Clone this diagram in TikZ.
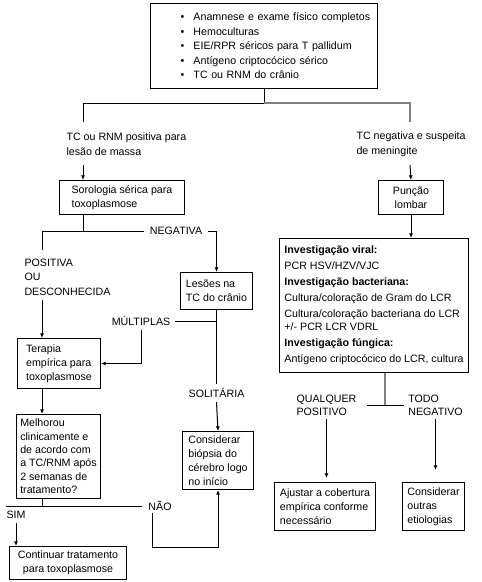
\documentclass[tikz,border=0pt]{standalone}
\usepackage{fontspec}
\setmainfont{Liberation Sans}
\usepackage{tikz}
\usetikzlibrary{
  arrows.meta
}
\tikzset{>={Latex[length=3.5pt,width=3pt]}}
\tikzset{
  box/.style={draw,anchor=north west,align=left,inner xsep=0pt,inner ysep=0pt},
  lbl/.style={align=left,inner sep=0pt},
  grayline/.style={draw=gray,line width=1.1pt}
}
\newcommand\bul{\hspace*{22.5pt}\makebox[9.75pt][l]{\textbullet}}

\begin{document}
\begin{tikzpicture}[x=0.75pt,y=-0.75pt,line width=0.75pt,font=\fontsize{8}{10.5}\selectfont]
\useasboundingbox (0,0) rectangle (482,582);
\node[box,text width=170.25pt,minimum height=63.75pt,font=\fontsize{8}{10.9}\selectfont] (exames) at (150,3)
  {\bul Anamnese e exame físico completos\\ \bul Hemoculturas\\ \bul EIE/RPR séricos para T pallidum\\
   \bul Antígeno criptocócico sérico\\ \bul TC ou RNM do crânio};
\node[lbl,anchor=west,font=\fontsize{8}{11.25}\selectfont] (lesaoL) at (66,144.5) {TC ou RNM positiva para\\lesão de massa};
\node[lbl,anchor=west,font=\fontsize{8}{11.25}\selectfont] (menL) at (356,144.5) {TC negativa e suspeita\\de meningite};
\node[box,minimum width=93.75pt,minimum height=25.5pt] (soro) at (59,180) {Sorologia sérica para\\toxoplasmose};
\node[box,align=center,minimum width=48.75pt,minimum height=25.5pt] (punc) at (378,180) {Punção\\lombar};
\node[lbl,inner xsep=3.75pt] (negL) at (176,231) {NEGATIVA};
\node[lbl,anchor=west,font=\fontsize{8}{10.9}\selectfont] (posL) at (24,277) {POSITIVA\\OU\\DESCONHECIDA};
\node[box,minimum width=141.75pt,minimum height=100.5pt,font=\fontsize{8}{12}\selectfont] (inv) at (279,238)
  {\textbf{Investigação viral:}\\ PCR HSV/HZV/VJC\\ \textbf{Investigação bacteriana:}\\
   Cultura/coloração de Gram do LCR\\ Cultura/coloração bacteriana do LCR\\[-2.5pt] +/- PCR LCR VDRL\\
   \textbf{Investigação fúngica:}\\ Antígeno criptocócico do LCR, cultura};
\node[box,minimum width=54pt,minimum height=27.75pt] (lesoes) at (180,272) {Lesões na\\TC do crânio};
\node[lbl,inner xsep=3pt,inner ysep=3pt] (multL) at (141,321) {MÚLTIPLAS};
\node[box,minimum width=62.25pt,minimum height=37.5pt] (terapia) at (17,338) {Terapia\\empírica para\\toxoplasmose};
\node[lbl,inner ysep=3pt] (solL) at (216.5,393) {SOLITÁRIA};
\node[lbl,inner xsep=7.5pt,inner ysep=2pt,font=\fontsize{8}{9.75}\selectfont] (qualL) at (326.5,405.5) {QUALQUER\\POSITIVO};
\node[lbl,inner xsep=3pt,inner ysep=2pt,font=\fontsize{8}{9.75}\selectfont] (todoL) at (435.5,405.5) {TODO\\NEGATIVO};
\node[box,minimum width=63pt,minimum height=63pt,font=\fontsize{8}{10}\selectfont] (melhorou) at (16,414)
  {Melhorou\\clinicamente e\\de acordo com\\a TC/RNM após\\2 semanas de\\tratamento?};
\node[box,minimum width=53.25pt,minimum height=43.5pt] (biopsia) at (182,431) {Considerar\\biópsia do\\cérebro logo\\no início};
\node[box,minimum width=75.75pt,minimum height=36pt] (ajust) at (274,482) {Ajustar a cobertura\\empírica conforme\\necessário};
\node[box,minimum width=46.5pt,minimum height=36pt] (outras) at (402,482) {Considerar\\outras\\etiologias};
\node[lbl,inner xsep=4.5pt] (naoL) at (160,506) {NÃO};
\node[lbl,inner ysep=3pt] (simL) at (16,515) {SIM};
\node[box,align=center,minimum width=87.75pt,minimum height=24.75pt] (contin) at (9,546) {Continuar tratamento\\para toxoplasmose};

\coordinate (a1) at (83,122);
\coordinate (a2) at (83,165);
\coordinate (b1) at (410,122);
\coordinate (b2) at (410,165);
\coordinate (c1) at (42,250);
\coordinate (c2) at (42,300);
\coordinate (e0) at (6,506);
\coordinate (f0) at (152,513);
\coordinate (f1) at (152,547);
\coordinate (g1) at (385,405);

\draw (exames.south) -- ++(0,14) coordinate (j0);
\draw (j0) -| (a1);
\draw[grayline] (j0) -| (b1);
\draw[->] (a2) -- (a2 |- soro.north);
\draw[->] (b2) -- (punc.north);
\draw[->] (punc.south) -- (punc.south |- inv.north);
\draw (a2 |- soro.south) -- (a2 |- negL) coordinate (j2);
\draw (j2) -| (c1);
\draw (j2) -- (negL.west);
\draw[->] (negL.east) -| (lesoes.north);
\draw[->] (c2) -- (c2 |- terapia.north);
\draw (lesoes.south) -- (solL.north);
\draw (lesoes.south |- multL.east) -- (multL.east);
\draw[->] (multL.south) |- (terapia.east);
\draw[->] (solL.south) -- (biopsia.north);
\draw[->] (c2 |- terapia.south) -- (c2 |- melhorou.north);
\draw (c2 |- melhorou.south) -- (c2 |- e0);
\draw (e0) -- (naoL.west);
\draw[->] (simL.south) -- (simL.south |- contin.north);
\draw[->] (f0) -- (f1) -| (biopsia.south);
\draw[grayline] (g1 |- inv.south) -- (g1);
\draw (qualL.east) -- (todoL.west);
\draw[->,shorten >=3pt] (qualL.south) -- (qualL.south |- ajust.north);
\draw[->,shorten >=9pt] (todoL.south) -- (todoL.south |- outras.north);
\end{tikzpicture}
\end{document}
